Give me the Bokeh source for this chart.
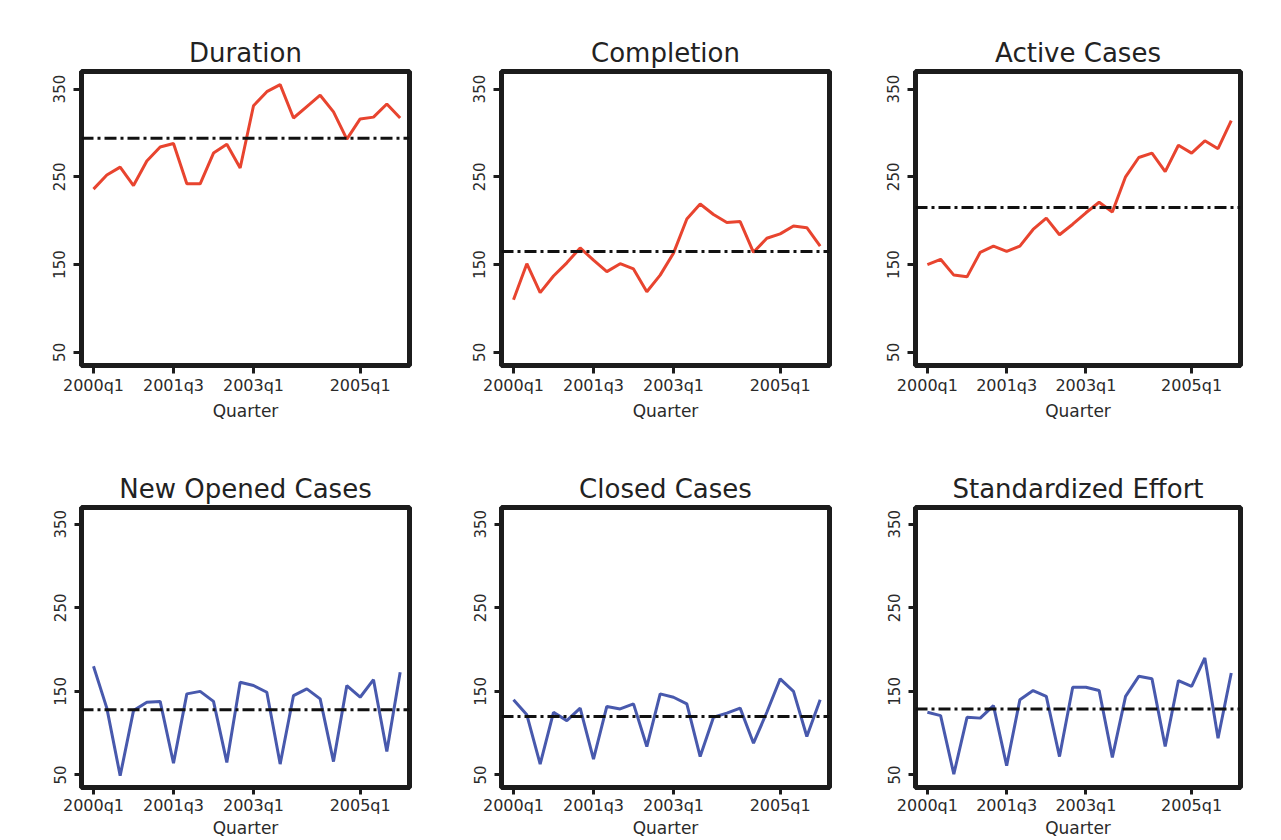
from bokeh.plotting import figure
from bokeh.layouts import row, column
from bokeh.models import Span, FixedTicker
from bokeh.embed import file_html
from bokeh.resources import INLINE

quarters = ["2000q1", "2000q2", "2000q3", "2000q4",
            "2001q1", "2001q2", "2001q3", "2001q4",
            "2002q1", "2002q2", "2002q3", "2002q4",
            "2003q1", "2003q2", "2003q3", "2003q4",
            "2004q1", "2004q2", "2004q3", "2004q4",
            "2005q1", "2005q2", "2005q3", "2005q4"]
tick_quarters = ["2000q1", "2001q3", "2003q1", "2005q1"]
y_ticks = [50, 150, 250, 350]

titles = ["Duration", "Completion", "Active Cases",
          "New Opened Cases", "Closed Cases", "Standardized Effort"]

duration = [236, 252, 261, 240, 268, 284, 288, 242, 242, 277, 287, 260,
            331, 347, 355, 317, 330, 343, 324, 293, 316, 318, 333, 317]
completion = [110, 151, 118, 137, 152, 169, 155, 142, 151, 145, 119, 138,
              163, 202, 219, 207, 198, 199, 164, 180, 185, 194, 192, 171]
active_cases = [150, 156, 138, 136, 164, 171, 165, 171, 190, 203, 184, 196,
                209, 221, 210, 250, 272, 277, 256, 286, 277, 291, 282, 314]
new_opened = [180, 130, 49, 127, 137, 138, 64, 147, 150, 138, 65, 161,
              157, 149, 63, 145, 153, 141, 66, 157, 143, 164, 78, 173]
closed_cases = [140, 122, 63, 125, 115, 130, 69, 132, 129, 135, 84, 147,
                143, 135, 72, 119, 124, 130, 88, 125, 165, 150, 96, 140]
std_effort = [125, 121, 51, 119, 118, 133, 61, 140, 151, 144, 72, 155,
              155, 151, 71, 144, 168, 165, 84, 163, 156, 190, 94, 172]

series = [duration, completion, active_cases, new_opened, closed_cases, std_effort]
means = [294, 165, 215, 128, 120, 129]
colors = ["#e8442f", "#e8442f", "#e8442f", "#4859ad", "#4859ad", "#4859ad"]

FONT = "DejaVu Sans"
x_idx = list(range(len(quarters)))
tick_idx = [quarters.index(q) for q in tick_quarters]

col_left = [81, 72, 72]
col_right = [20, 14, 10]
col_frame_w = [328, 328, 325]
row_top = [71, 63]
row_bottom = [79, 46]
row_height = [444, 396]
row_tick_out = [8, 7]
row_label_standoff = [2, 1]
row_axis_label_standoff = [3, 0]


def make_panel(i):
    r, c = divmod(i, 3)
    w = col_left[c] + col_frame_w[c] + col_right[c]
    p = figure(width=w, height=row_height[r],
               x_range=(-0.9, 23.7), y_range=(35, 370),
               output_backend="svg", toolbar_location=None,
               min_border_left=col_left[c], min_border_right=col_right[c],
               min_border_top=row_top[r], min_border_bottom=row_bottom[r],
               background_fill_color="white", border_fill_color="white")
    p.title.text = titles[i]
    p.title.align = "center"
    p.title.text_font = FONT
    p.title.text_font_size = "26px"
    p.title.text_font_style = "normal"
    p.title.text_color = "#222222"
    p.title.standoff = 8

    p.outline_line_color = "#1c1c1c"
    p.outline_line_width = 5
    p.grid.visible = False

    for ax in (p.xaxis[0], p.yaxis[0]):
        ax.axis_line_color = "#1c1c1c"
        ax.axis_line_width = 5
        ax.major_tick_line_color = "#1c1c1c"
        ax.major_tick_line_width = 3
        ax.major_tick_out = row_tick_out[r]
        ax.major_tick_in = 0
        ax.minor_tick_line_color = None
        ax.major_label_text_font = FONT
        ax.major_label_text_color = "#2a2a2a"

    xa = p.xaxis[0]
    xa.ticker = FixedTicker(ticks=tick_idx)
    xa.major_label_overrides = {k: q for k, q in zip(tick_idx, tick_quarters)}
    xa.major_label_text_font_size = "16px"
    xa.major_label_standoff = row_label_standoff[r]
    xa.axis_label = "Quarter"
    xa.axis_label_text_font = FONT
    xa.axis_label_text_font_size = "17px"
    xa.axis_label_text_font_style = "normal"
    xa.axis_label_text_color = "#2a2a2a"
    xa.axis_label_standoff = row_axis_label_standoff[r]

    ya = p.yaxis[0]
    ya.ticker = FixedTicker(ticks=y_ticks)
    ya.major_label_text_font_size = "15px"
    ya.major_label_orientation = "vertical"
    ya.major_label_standoff = 8

    p.line(x_idx, series[i], line_color=colors[i], line_width=3)
    p.add_layout(Span(location=means[i], dimension="width", line_color="#111111",
                      line_width=3, line_dash="12 4 3 4"))
    return p


panels = [make_panel(i) for i in range(6)]
layout = column(row(*panels[:3], spacing=0), row(*panels[3:], spacing=0), spacing=0)

open("out.html", "w").write(file_html(layout, INLINE))
